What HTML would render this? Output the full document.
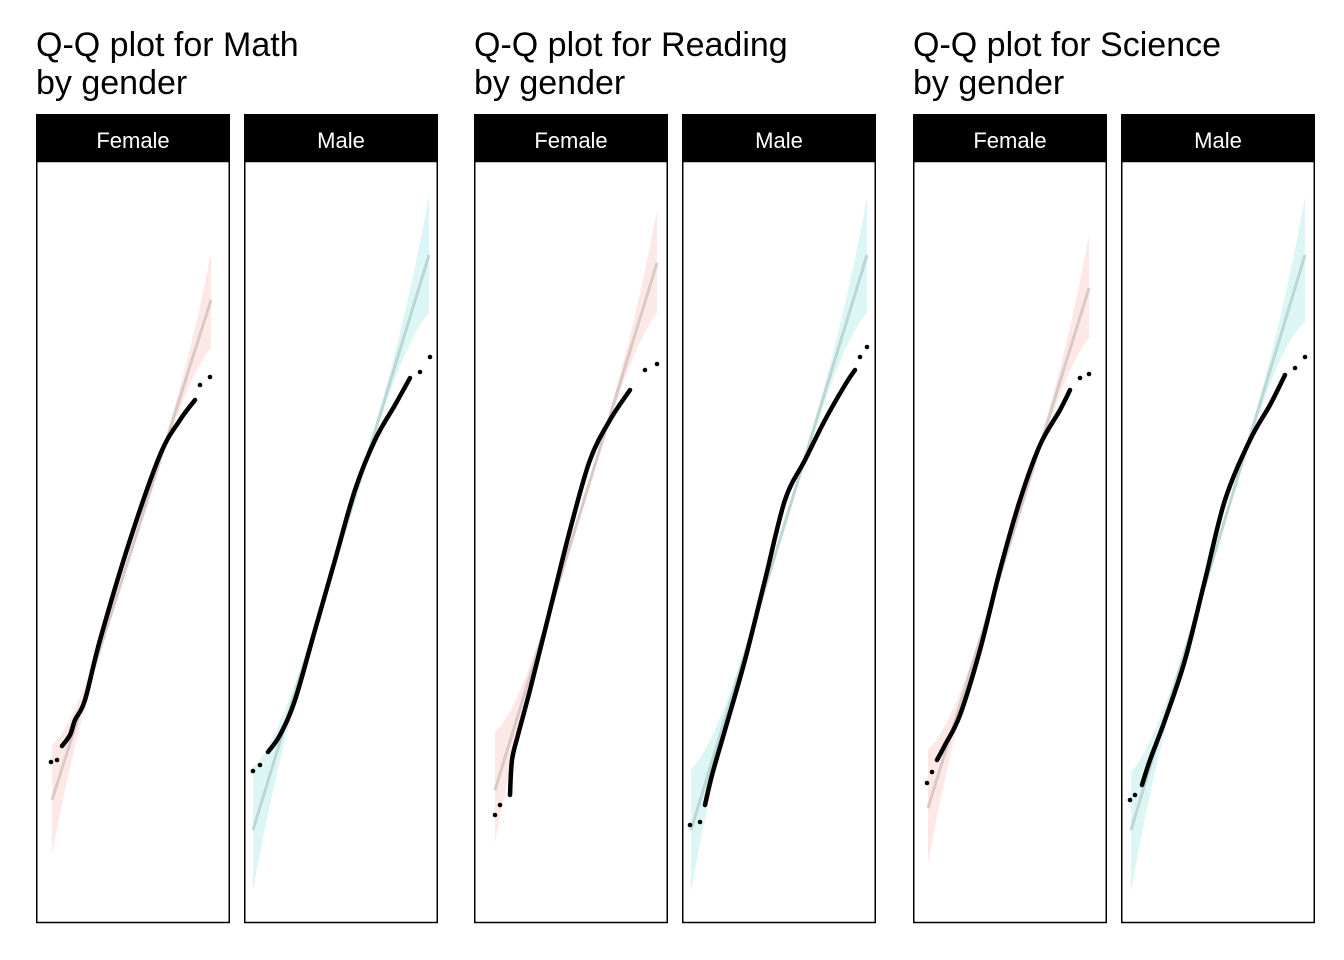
<!DOCTYPE html>
<html><head><meta charset="utf-8"><style>
html,body{margin:0;padding:0;background:#fff}
svg{display:block}
text{font-family:"Liberation Sans",Arial,sans-serif}
</style></head><body>
<svg id="s" width="1344" height="960" xmlns="http://www.w3.org/2000/svg">
<text x="36" y="56" font-size="34">Q-Q plot for Math</text>
<text x="36" y="94" font-size="34">by gender</text>
<text x="474" y="56" font-size="34">Q-Q plot for Reading</text>
<text x="474" y="94" font-size="34">by gender</text>
<text x="913" y="56" font-size="34">Q-Q plot for Science</text>
<text x="913" y="94" font-size="34">by gender</text>
<g id="g"></g>
</svg>
<script>
var P=[
{x:36,lab:"Female",c:"#fde8e6",lc:"#d8c8c6",l:[52,800,211,300],bl:[748,852],br:[257,345],
 d:[[51,762],[57,760],[62,746],[70,735],[75,720],[85,700],[100,640],[130,540],[160,455],[180,420],[195,400],[200,385],[210,377]]},
{x:244,lab:"Male",c:"#dcf5f5",lc:"#bcd6d6",l:[253,830,429,255],bl:[770,888],br:[198,310],
 d:[[253,771],[260,765],[268,752],[280,735],[295,700],[315,630],[335,560],[355,490],[375,440],[395,405],[410,378],[420,372],[430,357]]},
{x:474,lab:"Female",c:"#fde8e6",lc:"#d8c8c6",l:[495,790,657,263],bl:[735,840],br:[213,310],
 d:[[495,815],[500,805],[510,795],[512,760],[518,735],[530,690],[550,610],[570,530],[590,460],[610,420],[630,390],[645,370],[657,364]]},
{x:682,lab:"Male",c:"#dcf5f5",lc:"#bcd6d6",l:[691,830,867,255],bl:[772,888],br:[200,310],
 d:[[690,825],[700,822],[705,805],[712,775],[725,730],[745,660],[765,580],[785,500],[805,460],[825,420],[845,385],[855,370],[860,357],[867,347]]},
{x:913,lab:"Female",c:"#fde8e6",lc:"#d8c8c6",l:[928,808,1089,288],bl:[752,860],br:[238,335],
 d:[[927,783],[932,772],[937,760],[945,745],[960,715],[980,650],[1000,570],[1020,500],[1040,445],[1060,410],[1070,390],[1080,378],[1089,374]]},
{x:1121,lab:"Male",c:"#dcf5f5",lc:"#bcd6d6",l:[1131,830,1305,255],bl:[775,888],br:[200,320],
 d:[[1130,800],[1135,795],[1142,785],[1150,760],[1165,720],[1185,660],[1205,580],[1225,500],[1250,440],[1270,405],[1285,375],[1295,368],[1305,357]]}
];
function smooth(pts){
 var s="M"+pts[0][0]+","+pts[0][1];
 for(var i=0;i<pts.length-1;i++){
  var p0=pts[Math.max(0,i-1)],p1=pts[i],p2=pts[i+1],p3=pts[Math.min(pts.length-1,i+2)];
  var c1=[p1[0]+(p2[0]-p0[0])/6,p1[1]+(p2[1]-p0[1])/6],c2=[p2[0]-(p3[0]-p1[0])/6,p2[1]-(p3[1]-p1[1])/6];
  s+=" C"+c1.join(",")+" "+c2.join(",")+" "+p2.join(",");
 }
 return s;
}
var h="";
P.forEach(function(p){
 var w=194;
 h+='<rect x="'+p.x+'" y="114" width="'+w+'" height="47" fill="#000"/>';
 h+='<text x="'+(p.x+w/2)+'" y="148" font-size="22" fill="#fff" text-anchor="middle">'+p.lab+'</text>';
 var x0=p.l[0],y0=p.l[1],x1=p.l[2],y1=p.l[3],up=[],dn=[];
 for(var i=0;i<=60;i++){var t=i/60,x=x0+(x1-x0)*t,y=y0+(y1-y0)*t;
  var a=Math.pow(Math.max(0,1-2*t),3.5),b=Math.pow(Math.max(0,2*t-1),3.5);
  var uo=(y0-p.bl[0])*a+(y1-p.br[0])*b+3, lo=(p.bl[1]-y0)*a+(p.br[1]-y1)*b+3;
  up.push(x.toFixed(1)+','+(y-uo).toFixed(1));dn.unshift(x.toFixed(1)+','+(y+lo).toFixed(1));}
 h+='<polygon points="'+up.join(' ')+' '+dn.join(' ')+'" fill="'+p.c+'"/>';
 h+='<line x1="'+x0+'" y1="'+y0+'" x2="'+x1+'" y2="'+y1+'" stroke="'+p.lc+'" stroke-width="3"/>';
 var d=p.d;
 h+='<path d="'+smooth(d.slice(2,-2))+'" fill="none" stroke="#000" stroke-width="4.5" stroke-linejoin="round" stroke-linecap="round"/>';
 [0,1,d.length-2,d.length-1].forEach(function(k){h+='<circle cx="'+d[k][0]+'" cy="'+d[k][1]+'" r="2.3" fill="#000"/>';});
 h+='<rect x="'+(p.x+0.75)+'" y="161.5" width="'+(w-1.5)+'" height="761" fill="none" stroke="#000" stroke-width="1.5"/>';
});
document.getElementById("g").innerHTML=h;
</script>
</body></html>
